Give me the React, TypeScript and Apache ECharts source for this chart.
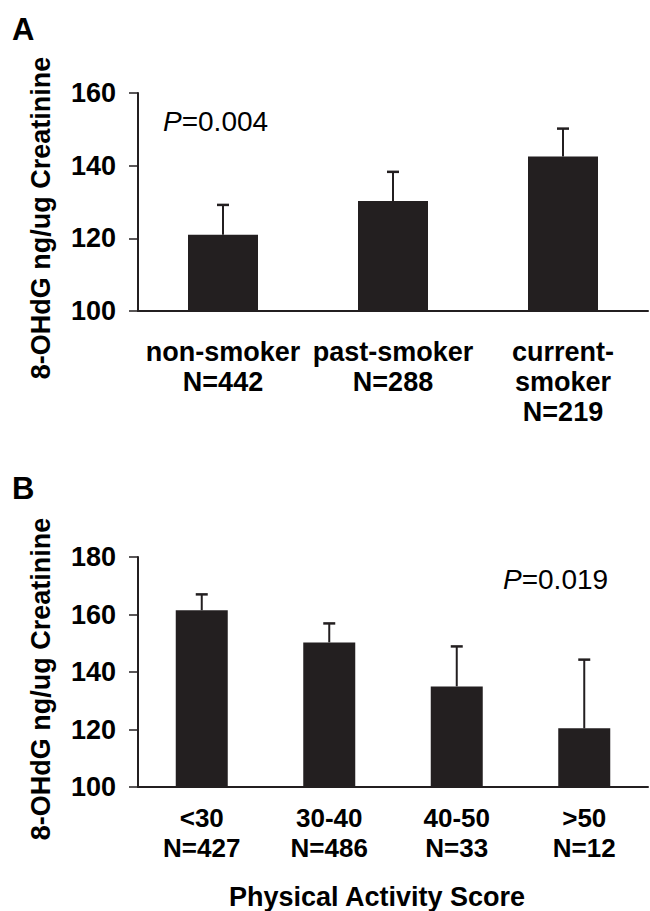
import React, { useEffect, useRef } from "react";
import * as echarts from "echarts";

const categoriesA = ["non-smoker\nN=442", "past-smoker\nN=288", "current-\nsmoker\nN=219"];
const meansA = [121.0, 130.3, 142.5];
const upperA = [129.2, 138.3, 150.2];

const categoriesB = ["<30\nN=427", "30-40\nN=486", "40-50\nN=33", ">50\nN=12"];
const meansB = [161.5, 150.3, 135.0, 120.4];
const upperB = [167.0, 156.9, 148.9, 144.3];

const yRangeA = [100, 160];
const yRangeB = [100, 180];
const yInterval = 20;

const FONT = '"Liberation Sans", Arial, sans-serif';
const DARK = "#231f20";

function errorRender(params: any, api: any) {
  const x = api.value(0);
  const a = api.coord([x, api.value(1)]);
  const b = api.coord([x, api.value(2)]);
  return {
    type: "group",
    children: [
      { type: "line", shape: { x1: a[0], y1: a[1], x2: b[0], y2: b[1] }, style: { stroke: DARK, lineWidth: 2 } },
      { type: "line", shape: { x1: b[0] - 6, y1: b[1], x2: b[0] + 6, y2: b[1] }, style: { stroke: DARK, lineWidth: 2.5 } },
    ],
  };
}

export default function App() {
  const ref = useRef<HTMLDivElement>(null);
  useEffect(() => {
    document.body.style.margin = "0";
    if (!ref.current) return;
    const chart = echarts.init(ref.current, null, { renderer: "svg" });
    const axisLine = { lineStyle: { color: DARK, width: 2 } };
    const axisTick = { length: 9, lineStyle: { color: DARK, width: 1.5 } };
    const yLabel = { fontSize: 27, fontWeight: "bold", fontFamily: FONT, color: "#000", margin: 22 };
    chart.setOption({
      animation: false,
      backgroundColor: "#fff",
      grid: [
        { left: 138, top: 93, width: 510, height: 218 },
        { left: 138, top: 557, width: 510, height: 230 },
      ],
      xAxis: [
        {
          type: "category", gridIndex: 0, data: categoriesA, axisLine, axisTick,
          axisLabel: { interval: 0, fontSize: 27, fontWeight: "bold", fontFamily: FONT, color: "#000", margin: 26, lineHeight: 30 },
        },
        {
          type: "category", gridIndex: 1, data: categoriesB, axisLine, axisTick,
          axisLabel: { interval: 0, fontSize: 26, fontWeight: "bold", fontFamily: FONT, color: "#000", margin: 16, lineHeight: 30 },
        },
      ],
      yAxis: [
        {
          type: "value", gridIndex: 0, min: yRangeA[0], max: yRangeA[1], interval: yInterval,
          axisLine: { show: true, ...axisLine }, axisTick: { show: true, ...axisTick }, splitLine: { show: false }, axisLabel: yLabel,
        },
        {
          type: "value", gridIndex: 1, min: yRangeB[0], max: yRangeB[1], interval: yInterval,
          axisLine: { show: true, ...axisLine }, axisTick: { show: true, ...axisTick }, splitLine: { show: false }, axisLabel: yLabel,
        },
      ],
      series: [
        { type: "bar", xAxisIndex: 0, yAxisIndex: 0, data: meansA, barWidth: 70, itemStyle: { color: DARK } },
        {
          type: "custom", xAxisIndex: 0, yAxisIndex: 0, renderItem: errorRender, z: 3,
          data: meansA.map((m, i) => [i, m, upperA[i]]), encode: { x: 0, y: [1, 2] },
        },
        { type: "bar", xAxisIndex: 1, yAxisIndex: 1, data: meansB, barWidth: 52, itemStyle: { color: DARK } },
        {
          type: "custom", xAxisIndex: 1, yAxisIndex: 1, renderItem: errorRender, z: 3,
          data: meansB.map((m, i) => [i, m, upperB[i]]), encode: { x: 0, y: [1, 2] },
        },
      ],
      graphic: [
        { type: "text", x: 12, y: 29, style: { text: "A", font: `bold 31px ${FONT}`, fill: "#000", align: "left", verticalAlign: "middle" } },
        { type: "text", x: 12, y: 488, style: { text: "B", font: `bold 31px ${FONT}`, fill: "#000", align: "left", verticalAlign: "middle" } },
        {
          type: "text", x: 41, y: 218, rotation: Math.PI / 2,
          style: { text: "8-OHdG ng/ug Creatinine", font: `bold 27px ${FONT}`, fill: "#000", align: "center", verticalAlign: "middle" },
        },
        {
          type: "text", x: 41, y: 679, rotation: Math.PI / 2,
          style: { text: "8-OHdG ng/ug Creatinine", font: `bold 27px ${FONT}`, fill: "#000", align: "center", verticalAlign: "middle" },
        },
        {
          type: "text", x: 163, y: 121,
          style: {
            text: "{i|P}=0.004", fontSize: 28, fontFamily: FONT, fill: "#000", align: "left", verticalAlign: "middle",
            rich: { i: { fontStyle: "italic", fontSize: 28, fontFamily: FONT, fill: "#000" } },
          },
        },
        {
          type: "text", x: 503, y: 579,
          style: {
            text: "{i|P}=0.019", fontSize: 28, fontFamily: FONT, fill: "#000", align: "left", verticalAlign: "middle",
            rich: { i: { fontStyle: "italic", fontSize: 28, fontFamily: FONT, fill: "#000" } },
          },
        },
        {
          type: "text", x: 377, y: 897,
          style: { text: "Physical Activity Score", font: `bold 27px ${FONT}`, fill: "#000", align: "center", verticalAlign: "middle" },
        },
      ],
    });
    return () => chart.dispose();
  }, []);
  return <div ref={ref} style={{ width: 650, height: 911 }} />;
}
